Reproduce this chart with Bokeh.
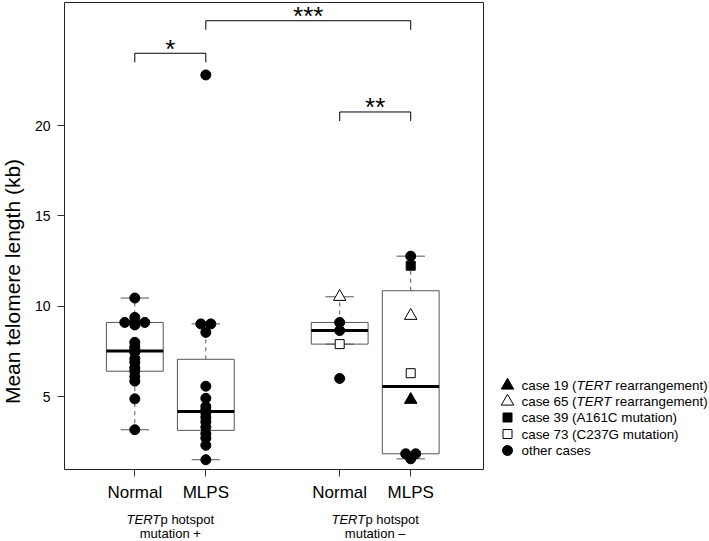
import math
from collections import Counter
from bokeh.plotting import figure
from bokeh.models import Range1d, FixedTicker, ColumnDataSource, Spacer, Grid
from bokeh.layouts import row, column
from bokeh.core.properties import value
from bokeh.embed import file_html
from bokeh.resources import INLINE

# ---------------- data ----------------
tick_labels = ["Normal", "MLPS", "Normal", "MLPS"]

normal_pos = [10.45, 9.38, 9.1, 9.1, 9.1, 8.96, 8.0, 7.75, 7.6, 7.45, 7.1, 6.9,
              6.6, 6.4, 6.1, 5.85, 4.87, 3.16]
normal_pos_case = ["other"] * len(normal_pos)

mlps_pos = [22.8, 9.02, 9.02, 8.55, 5.57, 4.9, 4.45, 4.25, 4.1, 3.85, 3.6, 3.3,
            2.95, 2.7, 2.3, 1.5]
mlps_pos_case = ["other"] * len(mlps_pos)

normal_neg = [10.52, 9.1, 8.65, 7.9, 6.0]
normal_neg_case = ["c65", "other", "other", "c73", "other"]

mlps_neg = [12.77, 12.24, 9.47, 6.29, 4.82, 1.83, 1.83, 1.55]
mlps_neg_case = ["other", "c39", "c65", "c73", "c19", "other", "other", "other"]

y_ticks = [5, 10, 15, 20]

sig_from = [0, 1, 2]
sig_to = [1, 3, 3]
sig_level = [24.0, 25.8, 20.75]
sig_text = ["*", "***", "**"]

group_line1 = [("TERT", "p hotspot"), ("TERT", "p hotspot")]
group_line2 = ["mutation +", "mutation \u2013"]

legend_keys = ["c19", "c65", "c39", "c73", "other"]
legend_labels = [
    [("case 19 (", "normal"), ("TERT", "italic"), (" rearrangement)", "normal")],
    [("case 65 (", "normal"), ("TERT", "italic"), (" rearrangement)", "normal")],
    [("case 39 (A161C mutation)", "normal")],
    [("case 73 (C237G mutation)", "normal")],
    [("other cases", "normal")],
]
y_label = "Mean telomere length (kb)"

# ---------------- styles / layout ----------------
FONT = "Liberation Sans"
MARK = {
    "other": ("circle", "black", 10),
    "c19": ("triangle", "black", 12.5),
    "c65": ("triangle", "white", 12.5),
    "c39": ("square", "black", 9),
    "c73": ("square", "white", 9),
}
BOXC = "#555555"
X0, X1 = 0.01, 5.91
Y0, Y1 = 0.96, 26.81
slot_x = [1.0, 2.0, 3.885, 4.885]

W_TOTAL, H_TOTAL = 709, 541
S_W = 26                      # y-label strip
BL, FW, BR = 38, 419, 7       # main plot: frame x from 64 to 483
BT, FH, BB = 2, 467, 40       # frame y from 2 to 469
MAIN_W = BL + FW + BR
TOP_H = BT + FH + BB
LEG_W = W_TOTAL - S_W - MAIN_W
BOT_H = H_TOTAL - TOP_H
ppx = FW / (X1 - X0)

AW = {' ': 278, '(': 333, ')': 333, 'a': 556, 'b': 556, 'c': 500, 'd': 556,
      'e': 556, 'g': 556, 'h': 556, 'i': 222, 'k': 500, 'l': 222, 'm': 833,
      'n': 556, 'o': 556, 'p': 556, 'r': 333, 's': 500, 't': 278, 'u': 556,
      'A': 667, 'C': 722, 'E': 667, 'G': 778, 'M': 833, 'R': 722, 'T': 611,
      '+': 584, '\u2013': 556, '*': 389}


def tw(s, fs):
    return sum(AW.get(ch, 556) for ch in s) / 1000.0 * fs


def fivenum(v):
    x = sorted(v)
    n = len(x)
    n4 = math.floor((n + 3) / 2) / 2
    d = [1, n4, (n + 1) / 2, n + 1 - n4, n]
    return [0.5 * (x[math.floor(di) - 1] + x[math.ceil(di) - 1]) for di in d]


def box_stats(v):
    f = fivenum(v)
    q1, med, q3 = f[1], f[2], f[3]
    iqr = q3 - q1
    inside = [a for a in v if q1 - 1.5 * iqr <= a <= q3 + 1.5 * iqr]
    return q1, med, q3, min(inside), max(inside)


def tie_offsets(vals, spacing):
    cnt = Counter(vals)
    seen = {}
    out = []
    for v in vals:
        k = cnt[v]
        i = seen.get(v, 0)
        seen[v] = i + 1
        out.append((i - (k - 1) / 2) * spacing)
    return out


def blank(fig):
    fig.outline_line_color = None
    fig.background_fill_color = "white"
    fig.border_fill_color = "white"
    for rr in list(fig.center):
        if isinstance(rr, Grid):
            rr.visible = False
            rr.grid_line_color = None
    fig.center = [rr for rr in fig.center if not isinstance(rr, Grid)]


groups = [normal_pos, mlps_pos, normal_neg, mlps_neg]
group_cases = [normal_pos_case, mlps_pos_case, normal_neg_case, mlps_neg_case]

# ---------------- main figure ----------------
p = figure(frame_width=FW, frame_height=FH, min_border_left=BL, min_border_right=BR,
           min_border_top=BT, min_border_bottom=BB,
           x_range=Range1d(X0, X1), y_range=Range1d(Y0, Y1),
           toolbar_location=None, output_backend="svg", title=None)
p.background_fill_color = "white"
p.border_fill_color = "white"
p.grid.visible = False
p.outline_line_color = "#222222"
p.outline_line_width = 1

overrides = {}
for xv, t in zip(slot_x, tick_labels):
    overrides[xv] = t
    overrides[("%g" % xv)] = t
p.xaxis.ticker = FixedTicker(ticks=slot_x)
p.xaxis.major_label_overrides = overrides
p.yaxis.ticker = FixedTicker(ticks=y_ticks)
for ax in (p.xaxis[0], p.yaxis[0]):
    ax.axis_line_color = None
    ax.major_tick_in = 0
    ax.major_tick_out = 7
    ax.major_tick_line_color = "#333333"
    ax.minor_tick_line_color = None
    ax.major_label_text_font = FONT
    ax.major_label_text_color = "black"
p.xaxis.major_label_text_font_size = "17px"
p.xaxis.major_label_standoff = 6
p.yaxis.major_label_text_font_size = "14px"
p.yaxis.major_label_standoff = 7

# boxes
st = [box_stats(g) for g in groups]
bsrc = ColumnDataSource(dict(
    x=slot_x,
    left=[x - 0.4 for x in slot_x], right=[x + 0.4 for x in slot_x],
    capl=[x - 0.2 for x in slot_x], capr=[x + 0.2 for x in slot_x],
    q1=[s[0] for s in st], med=[s[1] for s in st], q3=[s[2] for s in st],
    wlo=[s[3] for s in st], whi=[s[4] for s in st]))
p.quad(left="left", right="right", bottom="q1", top="q3", source=bsrc,
       fill_color="white", line_color=BOXC, line_width=1)
p.segment(x0="x", y0="q3", x1="x", y1="whi", source=bsrc, line_color=BOXC,
          line_width=1, line_dash="4 4")
p.segment(x0="x", y0="q1", x1="x", y1="wlo", source=bsrc, line_color=BOXC,
          line_width=1, line_dash="4 4")
p.segment(x0="capl", y0="whi", x1="capr", y1="whi", source=bsrc, line_color=BOXC, line_width=1)
p.segment(x0="capl", y0="wlo", x1="capr", y1="wlo", source=bsrc, line_color=BOXC, line_width=1)
p.segment(x0="left", y0="med", x1="right", y1="med", source=bsrc, line_color="black", line_width=3)

# points
rows = []
for gi, (vals, cs) in enumerate(zip(groups, group_cases)):
    offs = tie_offsets(vals, 10.0 / ppx)
    for v, c, o in zip(vals, cs, offs):
        rows.append((slot_x[gi] + o, v, c))
rows.sort(key=lambda r: r[2] != "other")
psrc = ColumnDataSource(dict(
    x=[r[0] for r in rows], y=[r[1] for r in rows],
    marker=[MARK[r[2]][0] for r in rows], fill=[MARK[r[2]][1] for r in rows],
    size=[MARK[r[2]][2] for r in rows]))
p.scatter(x="x", y="y", marker="marker", size="size", fill_color="fill",
          line_color="black", line_width=1, source=psrc)

# significance brackets
LEG = 0.5
sx0, sy0, sx1, sy1, tx, ty = [], [], [], [], [], []
for a, b, h in zip(sig_from, sig_to, sig_level):
    xa, xb = slot_x[a], slot_x[b]
    sx0 += [xa, xa, xb]
    sy0 += [h, h - LEG, h - LEG]
    sx1 += [xb, xa, xb]
    sy1 += [h, h, h]
    tx.append((xa + xb) / 2)
    ty.append(h)
p.segment(x0=sx0, y0=sy0, x1=sx1, y1=sy1, line_color="black", line_width=1)
p.text(x=tx, y=ty, text=sig_text, text_align="center", text_baseline="alphabetic",
       y_offset=-4.5, text_font_size="26px", text_font=value(FONT), text_color="black")

# ---------------- y-label strip ----------------
s = figure(frame_width=S_W, frame_height=FH, min_border_left=0, min_border_right=0,
           min_border_top=BT, min_border_bottom=BB,
           x_range=Range1d(0, S_W), y_range=Range1d(0, FH),
           x_axis_location=None, y_axis_location=None,
           toolbar_location=None, output_backend="svg", title=None)
blank(s)
s.text(x=[12], y=[BT + FH - 281], text=[y_label], angle=math.pi / 2,
       text_align="center", text_baseline="middle", text_font=value(FONT),
       text_font_size="21px", text_color="black")

# ---------------- legend strip ----------------
q = figure(frame_width=LEG_W, frame_height=FH, min_border_left=0, min_border_right=0,
           min_border_top=BT, min_border_bottom=BB,
           x_range=Range1d(0, LEG_W), y_range=Range1d(0, FH),
           x_axis_location=None, y_axis_location=None,
           toolbar_location=None, output_backend="svg", title=None)
blank(q)
LEG_LEFT = S_W + MAIN_W
leg_row_y = [385, 401, 417, 433.5, 450]
LMX, LTX, FSL = 507, 521, 13.4
qy = [BT + FH - yy for yy in leg_row_y]
q.scatter(x=[LMX - LEG_LEFT] * len(legend_keys), y=qy,
          marker=[MARK[k][0] for k in legend_keys],
          size=[MARK[k][2] for k in legend_keys],
          fill_color=[MARK[k][1] for k in legend_keys],
          line_color="black", line_width=1)
lx, ly, lt, ls = [], [], [], []
for yy, segs in zip(qy, legend_labels):
    xc = LTX - LEG_LEFT
    for seg, style in segs:
        lead = len(seg) - len(seg.lstrip(" "))
        xc += tw(" " * lead, FSL)
        s2 = seg.lstrip(" ")
        lx.append(xc)
        ly.append(yy)
        lt.append(s2)
        ls.append(style)
        xc += tw(s2, FSL)
q.text(x=lx, y=ly, text=lt, text_font_style=ls, text_align="left", text_baseline="middle",
       text_font=value(FONT), text_font_size="%gpx" % FSL, text_color="black")

# ---------------- group labels strip ----------------
r = figure(frame_width=FW, frame_height=BOT_H, min_border_left=BL, min_border_right=BR,
           min_border_top=0, min_border_bottom=0,
           x_range=p.x_range, y_range=Range1d(0, BOT_H),
           x_axis_location=None, y_axis_location=None,
           toolbar_location=None, output_backend="svg", title=None)
blank(r)
FSG = 13
gx, gy, gt, gs, go = [], [], [], [], []
for gi in range(2):
    cx = (slot_x[2 * gi] + slot_x[2 * gi + 1]) / 2
    it, rest = group_line1[gi]
    w_it, w_rest = tw(it, FSG), tw(rest, FSG)
    start = -(w_it + w_rest) / 2
    y1 = H_TOTAL - 519
    gx += [cx, cx]
    gy += [y1, y1]
    gt += [it, rest]
    gs += ["italic", "normal"]
    go += [start, start + w_it]
r.text(x=gx, y=gy, text=gt, text_font_style=gs, x_offset=go, text_align="left",
       text_baseline="middle", text_font=value(FONT), text_font_size="%dpx" % FSG,
       text_color="black")
r.text(x=[(slot_x[0] + slot_x[1]) / 2, (slot_x[2] + slot_x[3]) / 2],
       y=[H_TOTAL - 532.5] * 2, text=group_line2, text_align="center",
       text_baseline="middle", text_font=value(FONT), text_font_size="%dpx" % FSG,
       text_color="black")

layout = column(row(s, p, q), row(Spacer(width=S_W, height=BOT_H), r,
                                  Spacer(width=LEG_W, height=BOT_H)))
open("out.html", "w").write(file_html(layout, INLINE))
